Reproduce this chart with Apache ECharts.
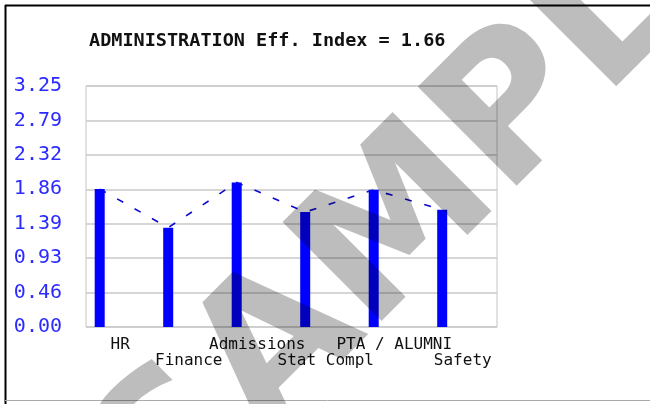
<!DOCTYPE html>
<html>
<head>
<meta charset="utf-8">
<script src="https://cdn.jsdelivr.net/npm/echarts@6/dist/echarts.min.js"></script>
<style>
  html, body { margin: 0; padding: 0; background: #fff; }
  #chart { width: 650px; height: 404px; }
</style>
</head>
<body>
<div id="chart"></div>
<script>
// chart data
var categories = ['HR', 'Finance', 'Admissions', 'Stat Compl', 'PTA / ALUMNI', 'Safety'];
var scores = [1.86, 1.34, 1.95, 1.55, 1.85, 1.58];
var titleText = 'ADMINISTRATION Eff. Index = 1.66';
var yMax = 3.25;
var yDivisions = 7;

var chart = echarts.init(document.getElementById('chart'), null, { renderer: 'canvas' });

var points = scores.map(function (v, i) { return [i, v]; });

var option = {
  backgroundColor: '#fff',
  animation: false,
  title: {
    text: titleText,
    left: 84,
    top: 27,
    textStyle: {
      fontFamily: 'DejaVu Sans Mono',
      fontWeight: 'bold',
      fontSize: 18.5,
      color: '#111'
    }
  },
  grid: {
    left: 86, right: 153, top: 86, bottom: 77,
    show: true,
    borderColor: '#c4c4c4',
    borderWidth: 1,
    outerBoundsMode: 'none'
  },
  xAxis: [
    {
      type: 'category',
      data: categories,
      boundaryGap: true,
      axisLine: { show: false },
      axisTick: { show: false },
      axisLabel: {
        interval: 0,
        margin: 10,
        fontFamily: 'DejaVu Sans Mono',
        fontSize: 16,
        lineHeight: 16,
        color: '#111',
        verticalAlign: 'top',
        formatter: function (val, idx) {
          return idx % 2 === 1 ? '\n' + val : val;
        }
      }
    },
    {
      type: 'value',
      min: -0.2,
      max: 5.8,
      show: false
    }
  ],
  yAxis: {
    type: 'value',
    min: 0,
    max: yMax,
    interval: yMax / yDivisions,
    axisLine: { show: false },
    axisTick: { show: false },
    splitLine: { lineStyle: { color: '#c8c8c8', width: 1.5 } },
    axisLabel: {
      margin: 24,
      fontFamily: 'DejaVu Sans Mono',
      fontSize: 20,
      color: '#2b2bff',
      formatter: function (v) { return v.toFixed(2); }
    }
  },
  series: [
    {
      type: 'line',
      xAxisIndex: 1,
      data: points,
      symbol: 'none',
      z: 1,
      lineStyle: { color: '#0a0ad0', width: 1.6, type: [7, 13] }
    },
    {
      type: 'bar',
      xAxisIndex: 1,
      data: points,
      barWidth: 10,
      z: 2,
      itemStyle: { color: '#0000ff' }
    }
  ],
  graphic: [
    {
      type: 'line',
      shape: { x1: 5, y1: 5.5, x2: 650, y2: 5.5 },
      style: { stroke: '#000', lineWidth: 2 },
      z: 50
    },
    {
      type: 'line',
      shape: { x1: 5.5, y1: 5, x2: 5.5, y2: 404 },
      style: { stroke: '#000', lineWidth: 2 },
      z: 50
    },
    {
      type: 'line',
      shape: { x1: 5, y1: 400.5, x2: 650, y2: 400.5 },
      style: { stroke: '#aaa', lineWidth: 1 },
      z: 50
    },
    {
      type: 'text',
      x: 131,
      y: 501,
      rotation: Math.PI / 4,
      z: 100,
      style: {
        text: 'SAMPLE',
        font: 'bold 192px "DejaVu Sans"',
        fill: 'rgba(0,0,0,0.26)',
        align: 'left',
        verticalAlign: 'middle'
      }
    }
  ]
};

chart.setOption(option);
</script>
</body>
</html>
